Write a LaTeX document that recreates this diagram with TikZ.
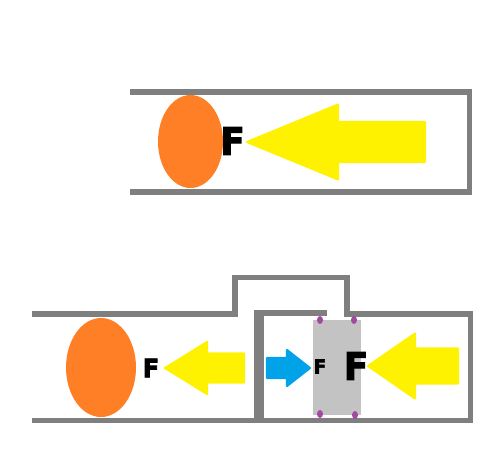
\documentclass[tikz,border=0pt]{standalone}
\usepackage{fontspec}
\newfontfamily\heavyfont[FakeBold=3.2,FakeStretch=0.94]{DejaVu Sans Bold}
\definecolor{wallgray}{HTML}{7F7F7F}
\definecolor{ballorange}{HTML}{FF7F27}
\definecolor{pushyellow}{HTML}{FFF200}
\definecolor{pushblue}{HTML}{00A2E8}
\definecolor{pistongray}{HTML}{C3C3C3}
\definecolor{pinpurple}{HTML}{A349A4}
\tikzset{
  wall/.style={draw=wallgray,line width=5.5*0.02cm},
  forcelabel/.style={inner sep=0pt,text=black,font=\heavyfont\fontsize{#1}{#1}\selectfont},
  pushtip/.style={line width=1.2pt,line join=round}
}
\begin{document}
\begin{tikzpicture}[x=0.02cm,y=-0.02cm]
  \useasboundingbox (0,0) rectangle (496,471);
  % tip x, head base x, tail x, mid y, head half, shaft half
  \def\pusharrow#1#2#3#4#5#6#7{\filldraw[pushtip,draw=#1,fill=#1] (#2,#5) -- (#3,#5-#6) -- (#3,#5-#7)
    -- (#4,#5-#7) -- (#4,#5+#7) -- (#3,#5+#7) -- (#3,#5+#6) -- cycle;}
  \def\pin#1#2{\fill[pinpurple] (#1,#2) ellipse [x radius=3,y radius=4];}
  % Upper tube
  \draw[wall] (130,92) -- (469.5,92) -- (469.5,192) -- (130,192);
  \fill[ballorange] (190.5,141.5) ellipse [x radius=32.5,y radius=46.5];
  \pusharrow{pushyellow}{247}{338}{425}{142}{37.5}{20}
  \node[forcelabel=21.5pt] (forceTop) at (232.5,141) {F};
  % Lower tube with bypass
  \draw[wall] (32,314) -- (235,314) -- (235,277.5) -- (347,277.5) -- (347,314)
    -- (470.5,314) -- (470.5,420.5) -- (32,420.5);
  \draw[draw=wallgray,line width=10*0.02cm] (259,420) -- (259,313);
  \draw[wall] (254,313) -- (327,313);
  % Ball side
  \fill[ballorange] (101,367.5) ellipse [x radius=35,y radius=49.5];
  \pusharrow{pushyellow}{165}{207}{244}{368}{26}{14.5}
  \node[forcelabel=14.5pt] (forceLeft) at (151,368) {F};
  % Piston
  \fill[pistongray] (313,320) rectangle (361,415);
  \pin{320}{320}
  \pin{354}{320}
  \pin{320}{414}
  \pin{355}{415}
  \pusharrow{pushblue}{310}{287}{267}{368}{18}{10}
  \pusharrow{pushyellow}{368}{415}{458}{366}{32.5}{17.5}
  \node[forcelabel=11pt] (forceSmall) at (320,366.5) {F};
  \node[forcelabel=21.5pt] (forceBig) at (356,366) {F};
\end{tikzpicture}
\end{document}
